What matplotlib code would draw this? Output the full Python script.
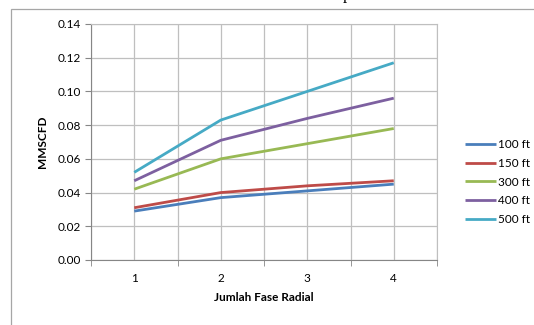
import matplotlib
matplotlib.use("Agg")
import matplotlib.pyplot as plt
from matplotlib.patches import Rectangle

plt.rcParams['font.family'] = ['Lato', 'DejaVu Sans']

fase = [1, 2, 3, 4]
labels = ["100 ft", "150 ft", "300 ft", "400 ft", "500 ft"]
q_100 = [0.029, 0.037, 0.041, 0.045]
q_150 = [0.031, 0.040, 0.044, 0.047]
q_300 = [0.042, 0.060, 0.069, 0.078]
q_400 = [0.047, 0.071, 0.084, 0.096]
q_500 = [0.052, 0.083, 0.100, 0.117]
colors = ["#4A7EBB", "#BE4B48", "#98B954", "#7D60A0", "#46AAC5"]

fig = plt.figure(figsize=(5.34, 3.25), dpi=100)
# outer chart frame (continues past the image edges)
fig.patches.append(Rectangle((11 / 534, -0.1), 1.2, 1 - 9 / 325 + 0.1,
                             transform=fig.transFigure, fill=False,
                             edgecolor="#a6a6a6", linewidth=0.9))
# piece of the title cut off at the top
fig.text(347 / 534, 1 + 1 / 325, "p", fontsize=12, family="Liberation Serif",
         ha="center", va="baseline")

ax = fig.add_axes([91 / 534, 1 - 260 / 325, 346 / 534, 236 / 325])

for y, lab, c in zip([q_100, q_150, q_300, q_400, q_500], labels, colors):
    ax.plot(fase, y, color=c, linewidth=2.0, label=lab, solid_capstyle="butt")

ax.set_xlim(0.5, 4.5)
ax.set_ylim(0, 0.14)
ax.set_yticks([i * 0.02 for i in range(8)])
ax.set_yticklabels([f"{i * 0.02:.2f}" for i in range(8)])
ax.set_xticks([1, 2, 3, 4])
ax.set_xticks([0.5, 1.5, 2.5, 3.5, 4.5], minor=True)
ax.tick_params(axis="x", which="major", length=0, pad=9, labelsize=8.5)
ax.tick_params(axis="x", which="minor", length=4, color="#868686", direction="out")
ax.tick_params(axis="y", length=4, color="#868686", labelsize=8.5, pad=3)

ax.grid(True, which="major", axis="y", color="#bfbfbf", linewidth=0.9)
ax.grid(True, which="both", axis="x", color="#bfbfbf", linewidth=0.9)
ax.set_axisbelow(True)
for side in ["left", "bottom"]:
    ax.spines[side].set_color("#868686")
for side in ["right", "top"]:
    ax.spines[side].set_color("#bfbfbf")

ax.set_xlabel("Jumlah Fase Radial", fontsize=8.5, fontweight="bold", labelpad=6)
ax.set_ylabel("MMSCFD", fontsize=8.5, fontweight="bold", labelpad=7)

ax.legend(loc="center left", bbox_to_anchor=(1.05, 0.33), frameon=False,
          fontsize=8.5, handlelength=2.6, handletextpad=0.2, labelspacing=0.65)

fig.savefig("out.png", dpi=100)
